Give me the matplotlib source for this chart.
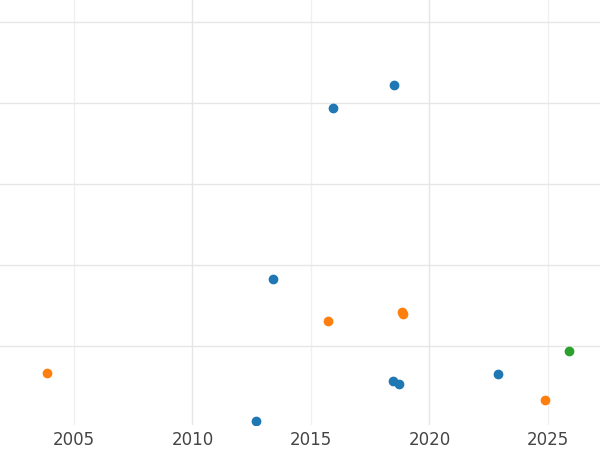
import matplotlib
matplotlib.use("Agg")
import matplotlib.pyplot as plt

# decimal years / unlabeled y values
blue_x = [2015.93, 2018.50, 2013.40, 2012.68, 2018.46, 2018.71, 2022.89]
blue_y = [3.94, 4.22, 1.83, 0.074, 0.568, 0.531, 0.654]
orange_x = [2003.86, 2015.72, 2018.84, 2018.88, 2024.87]
orange_y = [0.667, 1.31, 1.42, 1.395, 0.333]
green_x = [2025.89]
green_y = [0.938]
xticks = [2005, 2010, 2015, 2020, 2025]

fig = plt.figure(figsize=(6, 4.5), dpi=100)
ax = fig.add_axes([0, 0.055, 1, 0.945])
ax.set_xlim(2001.88, 2027.2)
ax.set_ylim(0.025, 5.27)

for t in xticks:
    ax.axvline(t, color="#e6e6e6" if t % 10 == 0 else "#f0f0f0", lw=1, zorder=0)
for g in [1, 2, 3, 4, 5]:
    ax.axhline(g, color="#e6e6e6", lw=1, zorder=0)

ax.scatter(blue_x, blue_y, s=36, color="#1f77b4", zorder=3)
ax.scatter(orange_x, orange_y, s=36, color="#ff7f0e", zorder=3)
ax.scatter(green_x, green_y, s=36, color="#2ca02c", zorder=3)

ax.set_xticks(xticks)
ax.set_xticklabels([str(t) for t in xticks])
ax.set_yticks([])
ax.tick_params(axis="x", length=0, labelsize=12, labelcolor="#444444", pad=4)
for s in ax.spines.values():
    s.set_visible(False)

fig.savefig("out.png", dpi=100)
